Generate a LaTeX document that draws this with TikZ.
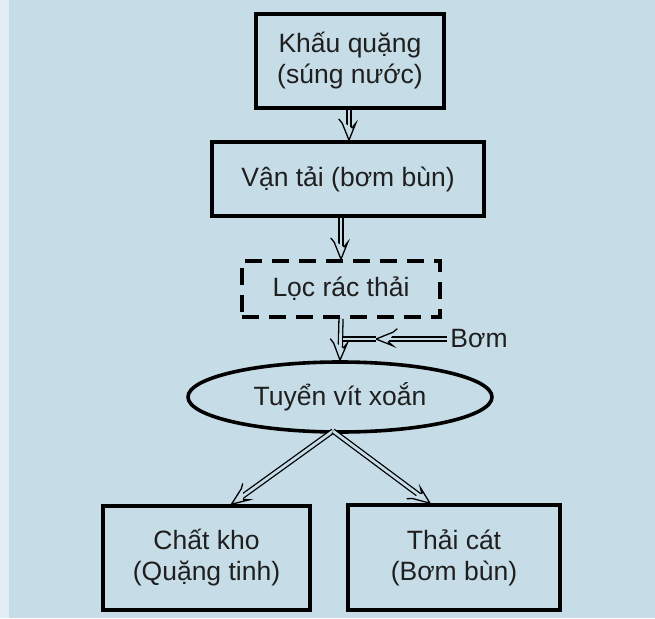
\documentclass[tikz,border=0pt]{standalone}
\usepackage{fontspec}
\setmainfont{Liberation Sans}
\usetikzlibrary{positioning, arrows.meta, calc, shapes, decorations.markings}

\definecolor{scanblue}{RGB}{198,221,232}
\definecolor{scanedge}{RGB}{226,238,244}

\begin{document}
\begin{tikzpicture}[
	x=1pt, y=-1pt,
	thick,
	>=Stealth,
	% Style for Nodes
	object/.style={
		rectangle,
		draw=black,
		line width=3.6pt,
		inner sep=0pt,
		align=center,
		text=black!88,
		font=\fontsize{26.5}{31}\selectfont
	},
	% Specific Node Styles
	process/.style={object},
	filter/.style={object, dash pattern=on 17pt off 10pt},
	separator/.style={object, ellipse},
	% Arrow Styles
	pipe/.style={double=scanblue, double distance=2.8pt, line width=1.3pt},
	flow/.style={pipe, shorten >=12pt,
		postaction={decorate, decoration={markings, mark=at position 1 with {
			\draw[line width=1.3pt, fill=scanblue, line join=miter]
				(-12pt,2.7pt) -- (-17pt,6.8pt) -- (0pt,0pt) -- (-17pt,-6.8pt) -- (-12pt,-2.7pt);}}}}
	]
	
	% --- PAGE ---
	\fill[scanblue] (0,0) rectangle (655,618);
	\fill[scanedge] (0,0) rectangle (9,618);
	\useasboundingbox (0,0) rectangle (655,618);
	
	% --- MAIN LINE ---
	
	% Mining Stage
	\node[process, minimum width=188pt, minimum height=94pt] (khau) at (350,61) {Khấu quặng\\(súng nước)};
	
	% Transport Stage
	\node[process, minimum width=272pt, minimum height=74pt] (vantai) at (348,179) {Vận tải (bơm bùn)};
	
	% Filter Stage
	\node[filter, minimum width=198pt, minimum height=56pt] (loc) at (341,289) {Lọc rác thải};
	
	% Separation Stage
	\node[separator, minimum width=304pt, minimum height=70pt] (tuyen) at (340,397) {Tuyển vít xoắn};
	
	% Pump label
	\node[font=\fontsize{26.5}{31}\selectfont, text=black!88] (bom) at (479,339) {Bơm};
	
	% --- OUTPUTS ---
	\node[process, minimum width=207pt, minimum height=104pt] (chat) at (206.5,558) {Chất kho\\(Quặng tinh)};
	\node[process, minimum width=212pt, minimum height=105pt] (thai) at (454,557.5) {Thải cát\\(Bơm bùn)};
	
	% --- CONNECTIONS ---
	\coordinate (pumphead) at (376,339);
	\coordinate (pumpjoint) at (343,339);
	\coordinate (split) at (333,431);
	
	% Feed line
	\draw[flow] (khau.south -| 349,0) -- (vantai.north -| 349,0);
	\draw[flow] (vantai.south -| loc.north) -- (loc.north);
	\draw[flow] (loc.south) -- (tuyen.north);
	
	% Pump water joining the feed
	\draw[flow] (bom.west) -- (pumphead);
	\draw[pipe] (pumphead) -- (pumpjoint);
	
	% Products
	\draw[flow] (split) -- ([xshift=25pt]chat.north);
	\draw[flow] (split) -- ([xshift=-24pt]thai.north);
	
\end{tikzpicture}
\end{document}
